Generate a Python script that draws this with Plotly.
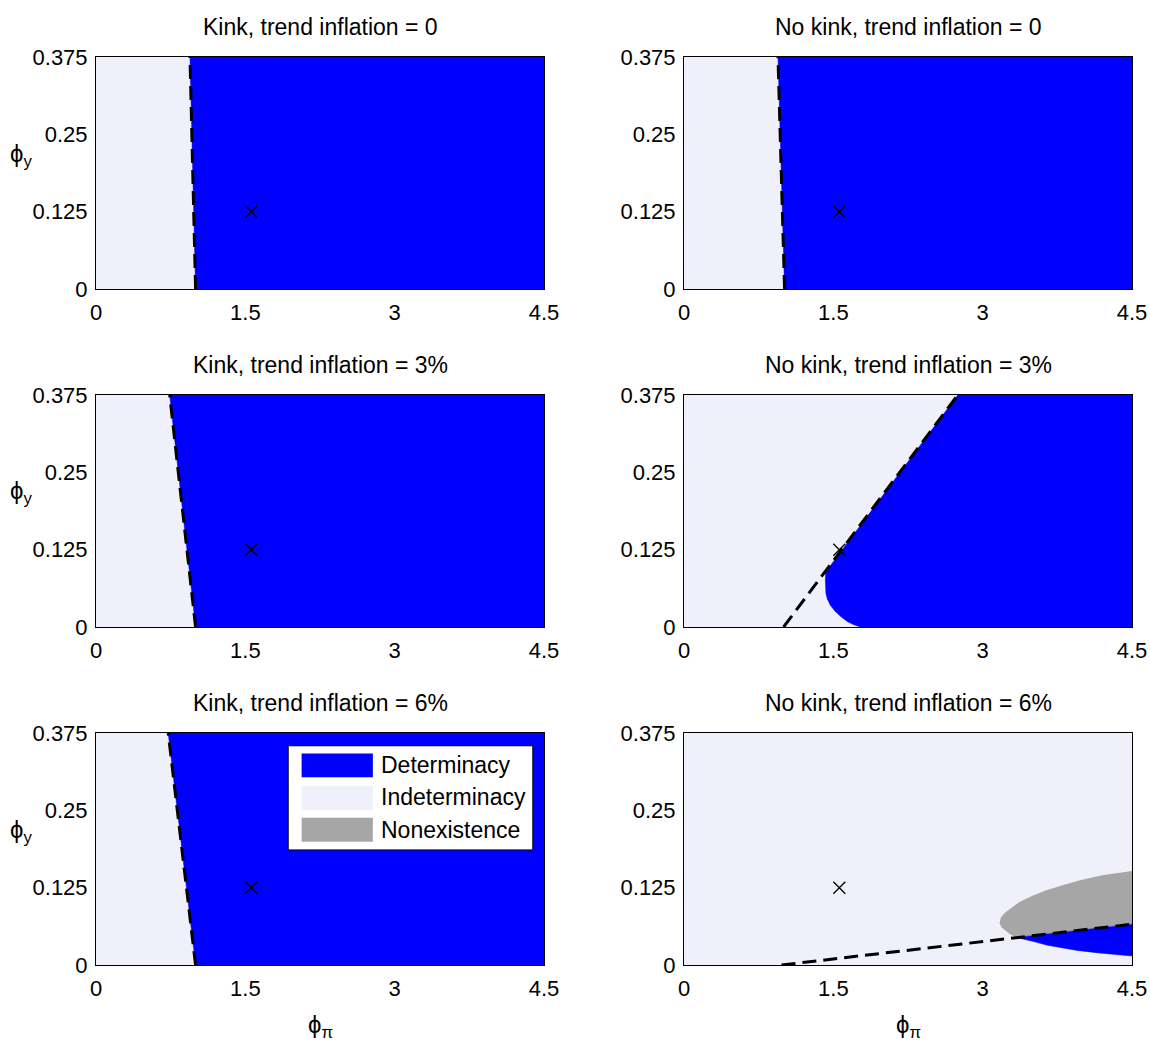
import plotly.graph_objects as go

W, H = 1150, 1042
FONT = "Liberation Sans, Arial, Helvetica, sans-serif"

# ---------------- data ----------------
PHI_PI_RANGE = [0, 4.5]
PHI_Y_RANGE = [0, 0.375]
X_TICKS = [0, 1.5, 3, 4.5]
X_TICK_LABELS = ["0", "1.5", "3", "4.5"]
Y_TICKS = [0, 0.125, 0.25, 0.375]
Y_TICK_LABELS = ["0", "0.125", "0.25", "0.375"]

PANEL_TITLES = [
    "Kink, trend inflation = 0",
    "No kink, trend inflation = 0",
    "Kink, trend inflation = 3%",
    "No kink, trend inflation = 3%",
    "Kink, trend inflation = 6%",
    "No kink, trend inflation = 6%",
]
X_LABEL = "ϕ<sub>π</sub>"
Y_LABEL = "ϕ<sub>y</sub>"

# calibrated policy (x marker)
CALIB_PHI_PI = 1.56
CALIB_PHI_Y = 0.125

# dashed determinacy boundaries (phi_pi, phi_y end points)
kink0_line_pi = [1.0, 0.944]
kink0_line_y = [0.0, 0.375]
nokink0_line_pi = [1.01, 0.944]
nokink0_line_y = [0.0, 0.375]
kink3_line_pi = [1.0, 0.74]
kink3_line_y = [0.0, 0.375]
nokink3_line_pi = [1.0, 2.75]
nokink3_line_y = [0.0, 0.375]
kink6_line_pi = [1.0, 0.725]
kink6_line_y = [0.0, 0.375]
nokink6_line_pi = [0.98, 4.5]
nokink6_line_y = [0.0, 0.066]

# determinacy region, no kink, trend inflation 3%
nk3_det_pi = [2.75, 4.5, 4.5, 1.77, 1.70, 1.64, 1.58, 1.52, 1.47, 1.44, 1.425, 1.42, 1.42, 1.423, 2.75]
nk3_det_y = [0.375, 0.375, 0.0, 0.0, 0.004, 0.009, 0.016, 0.025, 0.035, 0.045, 0.055, 0.065, 0.077, 0.089, 0.375]

# no kink, trend inflation 6%: nonexistence and determinacy regions
nk6_nonexist_pi = [3.17, 3.18, 3.22, 3.29, 3.37, 3.50, 3.64, 3.80, 3.98, 4.20, 4.5, 4.5, 3.34, 3.27, 3.22, 3.19, 3.17]
nk6_nonexist_y = [0.067, 0.076, 0.084, 0.093, 0.102, 0.112, 0.121, 0.129, 0.137, 0.145, 0.152, 0.066, 0.0445, 0.050, 0.0566, 0.061, 0.067]
nk6_det_pi = [3.34, 4.5, 4.5, 4.30, 4.14, 3.95, 3.81, 3.65, 3.51, 3.42, 3.34]
nk6_det_y = [0.0445, 0.066, 0.0145, 0.017, 0.020, 0.0235, 0.027, 0.032, 0.038, 0.041, 0.0445]

LEGEND_LABELS = ["Determinacy", "Indeterminacy", "Nonexistence"]

# ---------------- styles ----------------
C_DET = "#0000FF"
C_IND = "#F0F0FA"
C_NON = "#A6A6A6"
LEGEND_COLORS = [C_DET, C_IND, C_NON]
DASH = dict(color="black", width=3, dash="14px,7px")
FS_TICK = 22
FS_TITLE = 23
FS_LABEL = 24

# panel geometry in window pixels
COL_X = [(96, 544), (684, 1132)]
ROW_Y = [(57, 289), (395, 627), (733, 965)]


def px_x(p):
    return p / W


def px_y(p):
    return 1 - p / H


fig = go.Figure()


def add_panel(idx, det_pi, det_y, line_pi, line_y, non_pi=None, non_y=None):
    n = idx + 1
    xa = "x" if n == 1 else f"x{n}"
    ya = "y" if n == 1 else f"y{n}"
    # indeterminacy region (whole parameter space underneath)
    fig.add_trace(go.Scatter(
        x=[PHI_PI_RANGE[0], PHI_PI_RANGE[1], PHI_PI_RANGE[1], PHI_PI_RANGE[0], PHI_PI_RANGE[0]],
        y=[PHI_Y_RANGE[0], PHI_Y_RANGE[0], PHI_Y_RANGE[1], PHI_Y_RANGE[1], PHI_Y_RANGE[0]],
        fill="toself", fillcolor=C_IND, mode="lines", line=dict(width=0, color=C_IND),
        xaxis=xa, yaxis=ya, showlegend=False, hoverinfo="skip"))
    if non_pi is not None:
        fig.add_trace(go.Scatter(
            x=non_pi, y=non_y, fill="toself", fillcolor=C_NON, mode="lines",
            line=dict(width=0, color=C_NON), xaxis=xa, yaxis=ya,
            showlegend=False, hoverinfo="skip"))
    fig.add_trace(go.Scatter(
        x=det_pi, y=det_y, fill="toself", fillcolor=C_DET, mode="lines",
        line=dict(width=0.5, color=C_DET), xaxis=xa, yaxis=ya,
        showlegend=False, hoverinfo="skip"))
    fig.add_trace(go.Scatter(
        x=line_pi, y=line_y, mode="lines", line=DASH, xaxis=xa, yaxis=ya,
        showlegend=False, hoverinfo="skip"))
    fig.add_trace(go.Scatter(
        x=[CALIB_PHI_PI], y=[CALIB_PHI_Y], mode="markers",
        marker=dict(symbol="x-thin", size=12, line=dict(width=1.3, color="black")),
        xaxis=xa, yaxis=ya, showlegend=False, hoverinfo="skip"))


def half_plane(line_pi, line_y):
    return ([line_pi[0], line_pi[1], PHI_PI_RANGE[1], PHI_PI_RANGE[1], line_pi[0]],
            [line_y[0], line_y[1], PHI_Y_RANGE[1], PHI_Y_RANGE[0], line_y[0]])


d = half_plane(kink0_line_pi, kink0_line_y)
add_panel(0, d[0], d[1], kink0_line_pi, kink0_line_y)
d = half_plane(nokink0_line_pi, nokink0_line_y)
add_panel(1, d[0], d[1], nokink0_line_pi, nokink0_line_y)
d = half_plane(kink3_line_pi, kink3_line_y)
add_panel(2, d[0], d[1], kink3_line_pi, kink3_line_y)
add_panel(3, nk3_det_pi, nk3_det_y, nokink3_line_pi, nokink3_line_y)
d = half_plane(kink6_line_pi, kink6_line_y)
add_panel(4, d[0], d[1], kink6_line_pi, kink6_line_y)
add_panel(5, nk6_det_pi, nk6_det_y, nokink6_line_pi, nokink6_line_y, nk6_nonexist_pi, nk6_nonexist_y)

layout = dict(
    width=W, height=H, autosize=False,
    margin=dict(l=0, r=0, t=0, b=0, pad=0),
    paper_bgcolor="white", plot_bgcolor="white",
    font=dict(family=FONT, size=FS_TICK, color="black"),
    showlegend=False,
)

annotations = []
shapes = []
for i in range(6):
    r, c = i // 2, i % 2
    n = i + 1
    xk = "xaxis" if n == 1 else f"xaxis{n}"
    yk = "yaxis" if n == 1 else f"yaxis{n}"
    anchor_x = "y" if n == 1 else f"y{n}"
    anchor_y = "x" if n == 1 else f"x{n}"
    x0, x1 = COL_X[c]
    y0, y1 = ROW_Y[r]
    layout[xk] = dict(
        domain=[px_x(x0), px_x(x1)], range=PHI_PI_RANGE, anchor=anchor_x,
        tickvals=X_TICKS, ticktext=X_TICK_LABELS, ticks="outside", ticklen=4,
        tickcolor="rgba(0,0,0,0)", showgrid=False, zeroline=False, automargin=False,
        ticklabeloverflow="allow",
        showline=True, linecolor="black", linewidth=1, mirror=True,
        tickfont=dict(family=FONT, size=FS_TICK, color="black"), fixedrange=True)
    layout[yk] = dict(
        domain=[px_y(y1), px_y(y0)], range=PHI_Y_RANGE, anchor=anchor_y,
        tickvals=Y_TICKS, ticktext=Y_TICK_LABELS, ticks="outside", ticklen=3,
        tickcolor="rgba(0,0,0,0)", showgrid=False, zeroline=False, automargin=False,
        showline=True, linecolor="black", linewidth=1, mirror=True,
        tickfont=dict(family=FONT, size=FS_TICK, color="black"), fixedrange=True)
    annotations.append(dict(
        text=PANEL_TITLES[i], x=px_x((x0 + x1) / 2), y=px_y(y0 - 30),
        xref="paper", yref="paper", xanchor="center", yanchor="middle",
        showarrow=False, font=dict(family=FONT, size=FS_TITLE, color="black")))
    if c == 0:
        annotations.append(dict(
            text=Y_LABEL, x=px_x(21), y=px_y((y0 + y1) / 2 - 18),
            xref="paper", yref="paper", xanchor="center", yanchor="middle",
            showarrow=False, font=dict(family=FONT, size=FS_LABEL, color="black")))
    if r == 2:
        annotations.append(dict(
            text=X_LABEL, x=px_x((x0 + x1) / 2), y=px_y(1026),
            xref="paper", yref="paper", xanchor="center", yanchor="middle",
            showarrow=False, font=dict(family=FONT, size=FS_LABEL, color="black")))

# legend box inside panel 5 (kink, 6%)
shapes.append(dict(type="rect", xref="x5 domain", yref="y5 domain",
                   x0=0.429, x1=0.975, y0=0.496, y1=0.945,
                   fillcolor="white", line=dict(color="black", width=1), layer="above"))
patch_y = [(0.809, 0.912), (0.668, 0.772), (0.531, 0.635)]
text_y = [0.862, 0.722, 0.584]
for lab, col, (py0, py1), ty in zip(LEGEND_LABELS, LEGEND_COLORS, patch_y, text_y):
    shapes.append(dict(type="rect", xref="x5 domain", yref="y5 domain",
                       x0=0.459, x1=0.618, y0=py0, y1=py1,
                       fillcolor=col, line=dict(width=0), layer="above"))
    annotations.append(dict(text=lab, xref="x5 domain", yref="y5 domain",
                            x=0.632, y=ty, xanchor="left", yanchor="middle",
                            showarrow=False, font=dict(family=FONT, size=FS_TITLE, color="black")))

layout["annotations"] = annotations
layout["shapes"] = shapes
fig.update_layout(**layout)

# remove the default page margin so the 1150x1042 figure fills the window exactly
fig.write_html("out.html", config={"displayModeBar": False, "staticPlot": True},
               post_script="document.body.style.margin='0px';")
